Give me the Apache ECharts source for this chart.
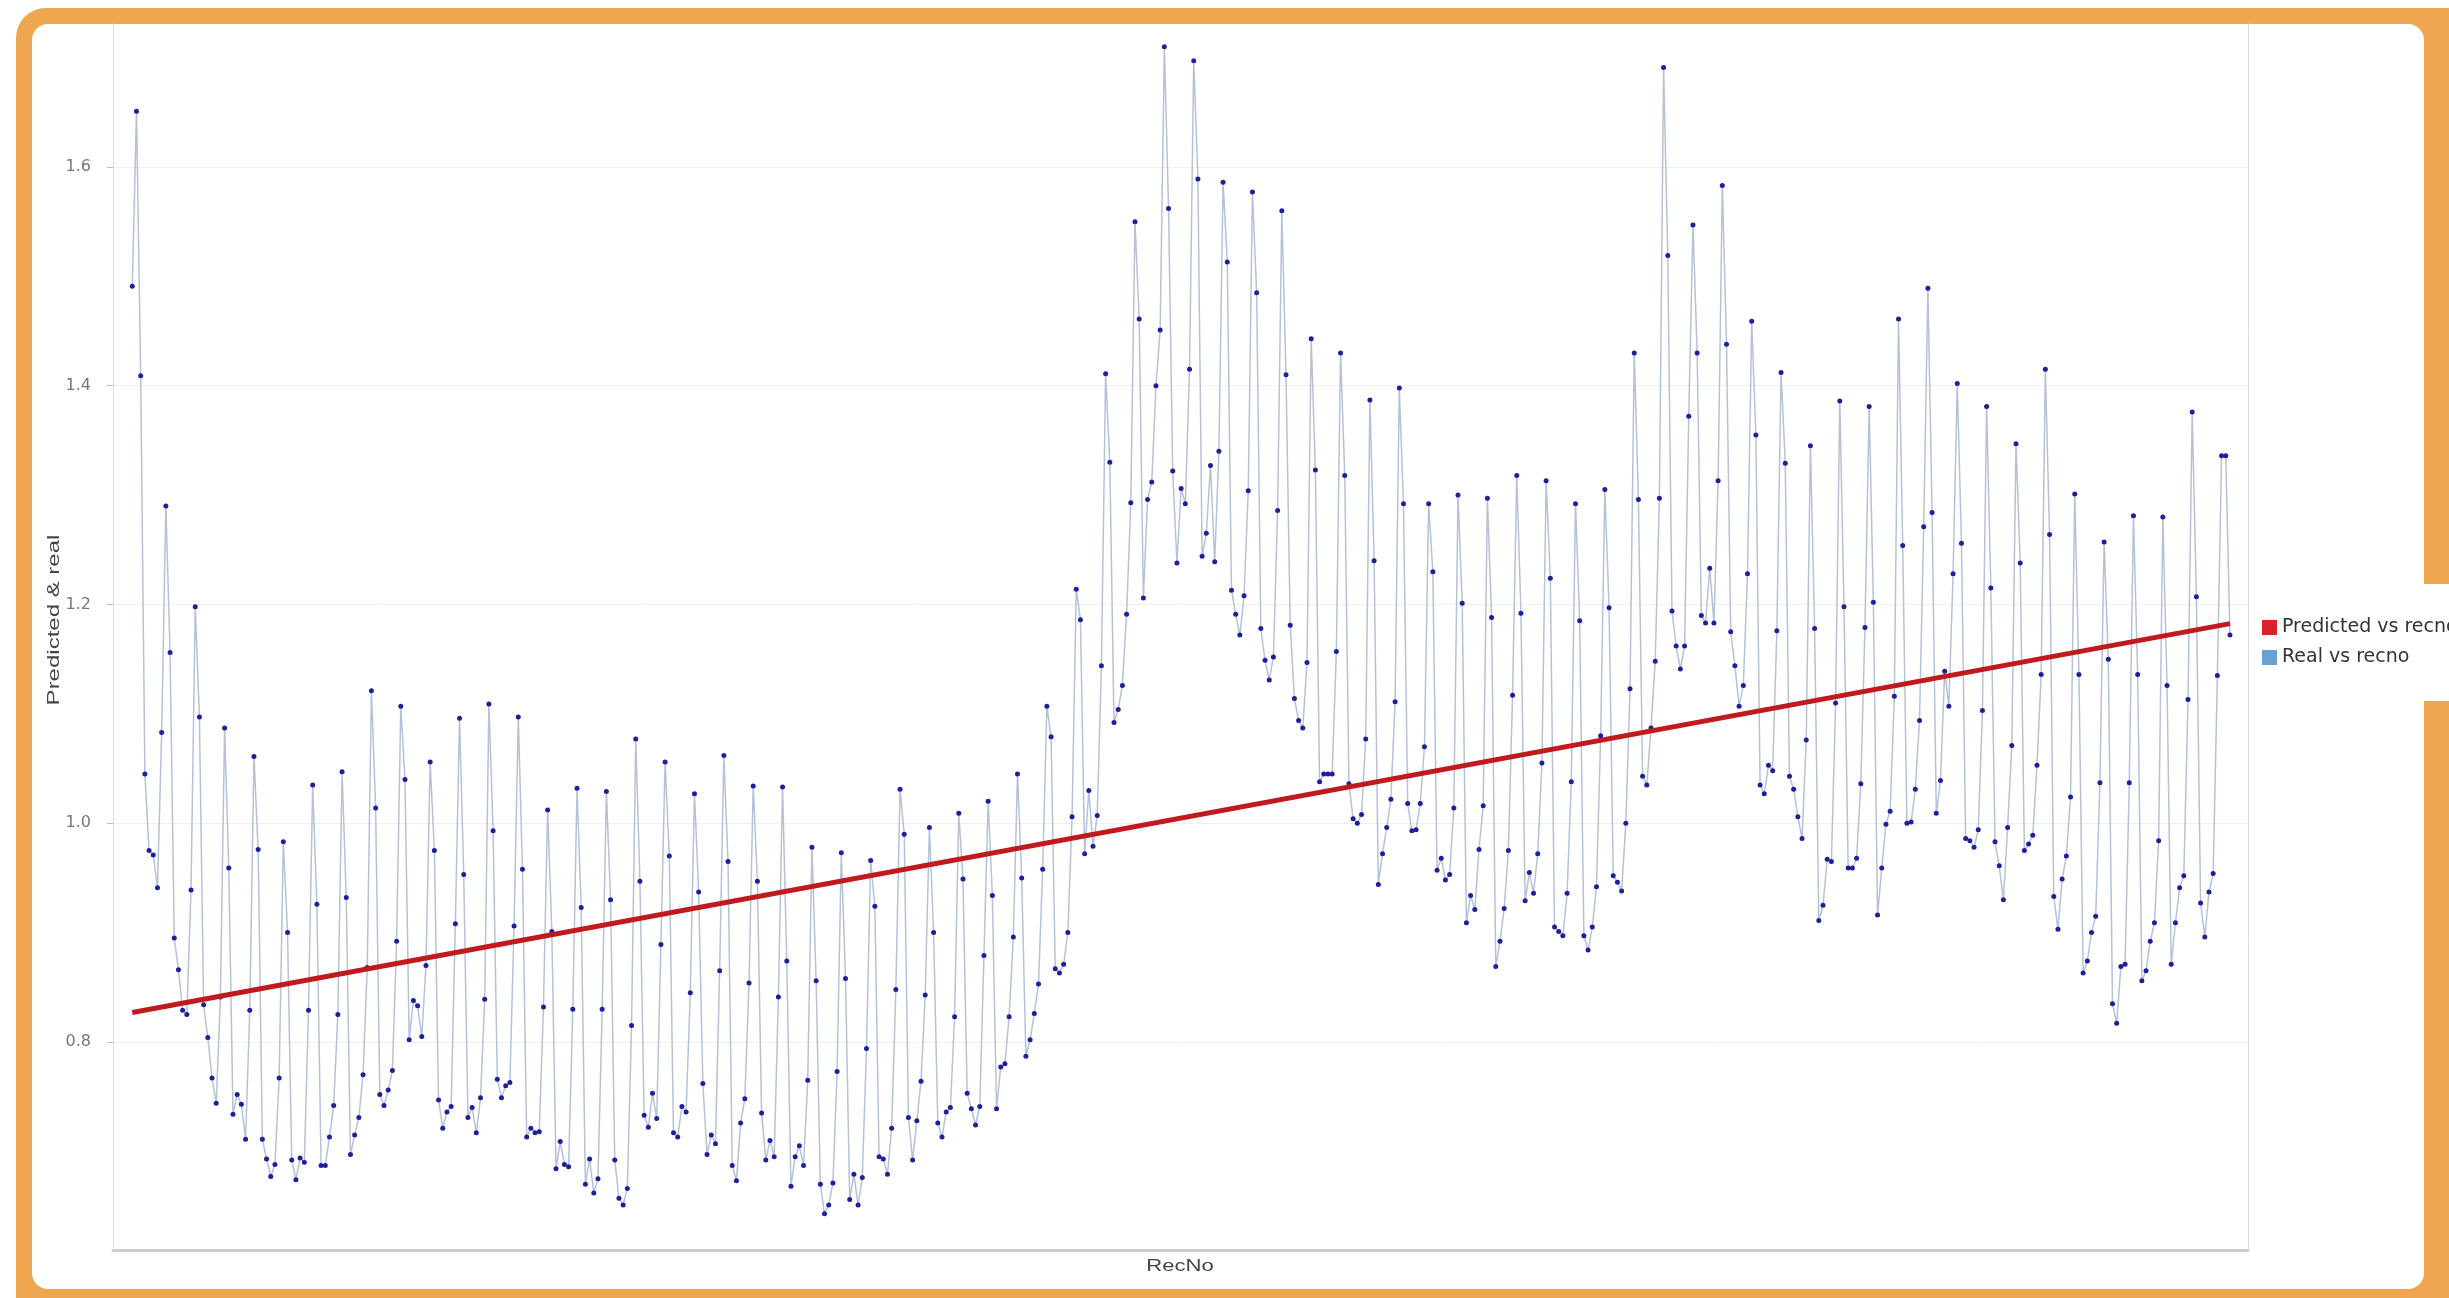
<!DOCTYPE html>
<html>
<head>
<meta charset="utf-8">
<title>Predicted &amp; real vs RecNo</title>
<script src="https://cdn.jsdelivr.net/npm/echarts@6/dist/echarts.min.js"></script>
<style>
  html, body { margin: 0; padding: 0; width: 2449px; height: 1298px; overflow: hidden; background: #ffffff; }
  #frame { position: absolute; left: 16px; top: 8px; width: 2470px; height: 1320px; background: #eea650; border-radius: 30px; }
  #card { position: absolute; left: 32px; top: 24px; width: 2392px; height: 1265px; background: #ffffff; border-radius: 16px; }
  #chart { position: absolute; left: 0; top: 0; width: 2449px; height: 1298px; }
</style>
</head>
<body>
<div id="frame"></div>
<div id="card"></div>
<div id="chart"></div>
<script>
// Daily observations (RecNo 1..501), grouped in blocks of ~100 records
const realBlock1 = [
  1.491, 1.651, 1.409, 1.045, 0.975, 0.971, 0.941,
  1.083, 1.290, 1.156, 0.895, 0.866, 0.829, 0.825,
  0.939, 1.198, 1.097, 0.834, 0.804, 0.767, 0.744,
  0.841, 1.087, 0.959, 0.734, 0.752, 0.743, 0.711,
  0.829, 1.061, 0.976, 0.711, 0.693, 0.677, 0.688,
  0.767, 0.983, 0.900, 0.692, 0.674, 0.694, 0.690,
  0.829, 1.035, 0.926, 0.687, 0.687, 0.713, 0.742,
  0.825, 1.047, 0.932, 0.697, 0.715, 0.731, 0.770,
  0.868, 1.121, 1.014, 0.752, 0.742, 0.756, 0.774,
  0.892, 1.107, 1.040, 0.802, 0.838, 0.833, 0.805,
  0.870, 1.056, 0.975, 0.747, 0.721, 0.736, 0.741,
  0.908, 1.096, 0.953, 0.731, 0.740, 0.717, 0.749,
  0.839, 1.109, 0.993, 0.766, 0.749, 0.760, 0.763,
  0.906, 1.097, 0.958, 0.713, 0.721, 0.717, 0.718
];
const realBlock2 = [
  0.832, 1.012, 0.901, 0.684, 0.709, 0.688, 0.686,
  0.830, 1.032, 0.923, 0.670, 0.693, 0.662, 0.675,
  0.830, 1.029, 0.930, 0.692, 0.657, 0.651, 0.666,
  0.815, 1.077, 0.947, 0.733, 0.722, 0.753, 0.730,
  0.889, 1.056, 0.970, 0.717, 0.713, 0.741, 0.736,
  0.845, 1.027, 0.937, 0.762, 0.697, 0.715, 0.707,
  0.865, 1.062, 0.965, 0.687, 0.673, 0.726, 0.748,
  0.854, 1.034, 0.947, 0.735, 0.692, 0.710, 0.695,
  0.841, 1.033, 0.874, 0.668, 0.695, 0.705, 0.687,
  0.765, 0.978, 0.856, 0.670, 0.643, 0.651, 0.671,
  0.773, 0.973, 0.858, 0.656, 0.679, 0.651, 0.676,
  0.794, 0.966, 0.924, 0.695, 0.693, 0.679, 0.721,
  0.848, 1.031, 0.990, 0.731, 0.692, 0.728, 0.764,
  0.843, 0.996, 0.900, 0.726, 0.713, 0.736, 0.740,
  0.823, 1.009, 0.949, 0.753, 0.739, 0.724, 0.741
];
const realBlock3 = [
  0.879, 1.020, 0.934, 0.739, 0.777, 0.780, 0.823,
  0.896, 1.045, 0.950, 0.787, 0.802, 0.826, 0.853,
  0.958, 1.107, 1.079, 0.867, 0.863, 0.871, 0.900,
  1.006, 1.214, 1.186, 0.972, 1.030, 0.979, 1.007,
  1.144, 1.411, 1.330, 1.092, 1.104, 1.126, 1.191,
  1.293, 1.550, 1.461, 1.206, 1.296, 1.312, 1.400,
  1.451, 1.710, 1.562, 1.322, 1.238, 1.306, 1.292,
  1.415, 1.697, 1.589, 1.244, 1.265, 1.327, 1.239,
  1.340, 1.586, 1.513, 1.213, 1.191, 1.172, 1.208,
  1.304, 1.577, 1.485, 1.178, 1.149, 1.131, 1.152,
  1.286, 1.560, 1.410, 1.181, 1.114, 1.094, 1.087,
  1.147, 1.443, 1.323, 1.038, 1.045, 1.045, 1.045,
  1.157, 1.430, 1.318, 1.036, 1.004, 1.000, 1.008,
  1.077, 1.387, 1.240, 0.944, 0.972, 0.996, 1.022
];
const realBlock4 = [
  1.111, 1.398, 1.292, 1.018, 0.993, 0.994, 1.018,
  1.070, 1.292, 1.230, 0.957, 0.968, 0.948, 0.953,
  1.014, 1.300, 1.201, 0.909, 0.934, 0.921, 0.976,
  1.016, 1.297, 1.188, 0.869, 0.892, 0.922, 0.975,
  1.117, 1.318, 1.192, 0.929, 0.955, 0.936, 0.972,
  1.055, 1.313, 1.224, 0.905, 0.901, 0.897, 0.936,
  1.038, 1.292, 1.185, 0.897, 0.884, 0.905, 0.942,
  1.080, 1.305, 1.197, 0.952, 0.946, 0.938, 1.000,
  1.123, 1.430, 1.296, 1.043, 1.035, 1.087, 1.148,
  1.297, 1.691, 1.519, 1.194, 1.162, 1.141, 1.162,
  1.372, 1.547, 1.430, 1.190, 1.183, 1.233, 1.183,
  1.313, 1.583, 1.438, 1.175, 1.144, 1.107, 1.126,
  1.228, 1.459, 1.355, 1.035, 1.027, 1.053, 1.048,
  1.176, 1.412, 1.329, 1.043, 1.031, 1.006, 0.986,
  1.076, 1.345, 1.178, 0.911, 0.925, 0.967, 0.965
];
const realBlock5 = [
  1.110, 1.386, 1.198, 0.959, 0.959, 0.968, 1.036,
  1.179, 1.381, 1.202, 0.916, 0.959, 0.999, 1.011,
  1.116, 1.461, 1.254, 1.000, 1.001, 1.031, 1.094,
  1.271, 1.489, 1.284, 1.009, 1.039, 1.139, 1.107,
  1.228, 1.402, 1.256, 0.986, 0.984, 0.978, 0.994,
  1.103, 1.381, 1.215, 0.983, 0.961, 0.930, 0.996,
  1.071, 1.347, 1.238, 0.975, 0.981, 0.989, 1.053,
  1.136, 1.415, 1.264, 0.933, 0.903, 0.949, 0.970,
  1.024, 1.301, 1.136, 0.863, 0.874, 0.900, 0.915,
  1.037, 1.257, 1.150, 0.835, 0.817, 0.869, 0.871,
  1.037, 1.281, 1.136, 0.856, 0.865, 0.892, 0.909,
  0.984, 1.280, 1.126, 0.871, 0.909, 0.941, 0.952,
  1.113, 1.376, 1.207, 0.927, 0.896, 0.937, 0.954,
  1.135, 1.336, 1.336, 1.172
];

// Fitted trend: values at the first and last record
const predictedRecNo = [1, 501];
const predictedValues = [0.827, 1.1825];

// Y axis ticks
const yTicks = [0.8, 1.0, 1.2, 1.4, 1.6];

const realValues = realBlock1.concat(realBlock2, realBlock3, realBlock4, realBlock5);
const realData = realValues.map((v, i) => [i + 1, v]);
const predictedData = predictedRecNo.map((x, i) => [x, predictedValues[i]]);

const Y_MIN = 0.6098, Y_MAX = 1.7307;
const frameLine = { show: true, onZero: false, lineStyle: { color: '#dcdcdc', width: 1 } };

const chart = echarts.init(document.getElementById('chart'), null, { renderer: 'canvas' });

chart.setOption({
  animation: false,
  backgroundColor: 'transparent',
  grid: { left: 113, right: 201, top: 24, bottom: 48, show: false },
  legend: {
    orient: 'vertical',
    left: 2254, top: 584,
    padding: [34, 40, 34, 8],
    backgroundColor: '#ffffff',
    icon: 'rect', itemWidth: 15, itemHeight: 15, itemGap: 11,
    textStyle: { fontFamily: 'DejaVu Sans', fontSize: 19, color: '#333333' },
    data: [
      { name: 'Predicted vs recno', itemStyle: { color: '#d8222a' } },
      { name: 'Real vs recno', itemStyle: { color: '#6c9fd2' } }
    ]
  },
  graphic: [
    {
      type: 'text', x: 55, y: 620, rotation: Math.PI / 2, scaleX: 1.5,
      style: { text: 'Predicted & real', fontFamily: 'Liberation Sans', fontSize: 16, fill: '#444444', align: 'center', verticalAlign: 'middle' }
    },
    {
      type: 'text', x: 1180, y: 1267, scaleX: 1.38,
      style: { text: 'RecNo', fontFamily: 'Liberation Sans', fontSize: 16, fill: '#444444', align: 'center', verticalAlign: 'middle' }
    }
  ],
  xAxis: {
    type: 'value', min: -3.6, max: 505.3,
    axisLabel: { show: false }, axisTick: { show: false }, splitLine: { show: false },
    axisLine: { onZero: false, lineStyle: { color: '#cccccc', width: 3 } }
  },
  yAxis: [
    {
      type: 'value', min: Y_MIN, max: Y_MAX, position: 'left',
      axisLine: frameLine,
      axisTick: { show: true, customValues: yTicks, length: 6, lineStyle: { color: '#bbbbbb' } },
      axisLabel: {
        customValues: yTicks, margin: 22,
        fontFamily: 'DejaVu Sans', fontSize: 16, color: '#777777',
        formatter: v => v.toFixed(1)
      },
      splitLine: { show: true, lineStyle: { color: '#f0f0f0', width: 1 } }
    },
    {
      type: 'value', min: Y_MIN, max: Y_MAX, position: 'right',
      axisLine: frameLine,
      axisTick: { show: false }, axisLabel: { show: false }, splitLine: { show: false }
    }
  ],
  series: [
    {
      name: 'Predicted vs recno', type: 'line', data: predictedData,
      symbol: 'none', lineStyle: { color: '#c01a1e', width: 5 },
      itemStyle: { color: '#d8222a' }, z: 3
    },
    {
      name: 'Real vs recno', type: 'line', data: realData,
      symbol: 'circle', symbolSize: 5, showAllSymbol: true,
      lineStyle: { color: '#b4c2d8', width: 1.5 },
      itemStyle: { color: '#1f1f9c' }, z: 2
    }
  ]
});
</script>
</body>
</html>
